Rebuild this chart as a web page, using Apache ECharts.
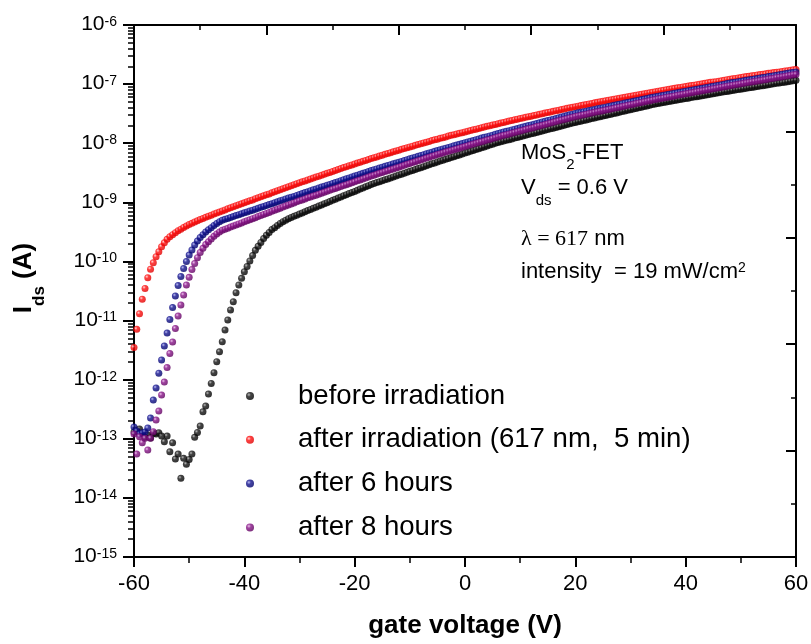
<!DOCTYPE html>
<html><head><meta charset="utf-8">
<script src="https://cdn.jsdelivr.net/npm/echarts@6/dist/echarts.min.js"></script>
<style>html,body{margin:0;padding:0;background:#fff}#c{width:811px;height:644px}</style>
</head><body><div id="c"></div>
<script>
const gateVoltage = [
-60,-59.5,-59,-58.5,-58,-57.5,-57,-56.5,-56,-55.5,
-55,-54.5,-54,-53.5,-53,-52.5,-52,-51.5,-51,-50.5,
-50,-49.5,-49,-48.5,-48,-47.5,-47,-46.5,-46,-45.5,
-45,-44.5,-44,-43.5,-43,-42.5,-42,-41.5,-41,-40.5,
-40,-39.5,-39,-38.5,-38,-37.5,-37,-36.5,-36,-35.5,
-35,-34.5,-34,-33.5,-33,-32.5,-32,-31.5,-31,-30.5,
-30,-29.5,-29,-28.5,-28,-27.5,-27,-26.5,-26,-25.5,
-25,-24.5,-24,-23.5,-23,-22.5,-22,-21.5,-21,-20.5,
-20,-19.5,-19,-18.5,-18,-17.5,-17,-16.5,-16,-15.5,
-15,-14.5,-14,-13.5,-13,-12.5,-12,-11.5,-11,-10.5,
-10,-9.5,-9,-8.5,-8,-7.5,-7,-6.5,-6,-5.5,
-5,-4.5,-4,-3.5,-3,-2.5,-2,-1.5,-1,-0.5,
0,0.5,1,1.5,2,2.5,3,3.5,4,4.5,
5,5.5,6,6.5,7,7.5,8,8.5,9,9.5,
10,10.5,11,11.5,12,12.5,13,13.5,14,14.5,
15,15.5,16,16.5,17,17.5,18,18.5,19,19.5,
20,20.5,21,21.5,22,22.5,23,23.5,24,24.5,
25,25.5,26,26.5,27,27.5,28,28.5,29,29.5,
30,30.5,31,31.5,32,32.5,33,33.5,34,34.5,
35,35.5,36,36.5,37,37.5,38,38.5,39,39.5,
40,40.5,41,41.5,42,42.5,43,43.5,44,44.5,
45,45.5,46,46.5,47,47.5,48,48.5,49,49.5,
50,50.5,51,51.5,52,52.5,53,53.5,54,54.5,
55,55.5,56,56.5,57,57.5,58,58.5,59,59.5,
60];

const beforeIrradiation = [
1.3e-13,1.4e-13,1.46e-13,1.25e-13,1.07e-13,1.16e-13,1.03e-13,1.23e-13,1.2e-13,1.26e-13,
1.11e-13,8.89e-14,1.11e-13,6.03e-14,8.55e-14,4.54e-14,5.51e-14,2.14e-14,4.67e-14,3.69e-14,
4.48e-14,5.51e-14,1.06e-13,1.28e-13,1.64e-13,2.86e-13,3.57e-13,5.7e-13,8.65e-13,1.31e-12,
2.01e-12,2.96e-12,4.38e-12,6.9e-12,1.02e-11,1.51e-11,2.08e-11,2.95e-11,3.99e-11,5.18e-11,
6.7e-11,8.2e-11,1.02e-10,1.26e-10,1.54e-10,1.81e-10,2.1e-10,2.44e-10,2.77e-10,3.1e-10,
3.47e-10,3.72e-10,4.06e-10,4.4e-10,4.7e-10,5.0e-10,5.28e-10,5.53e-10,5.79e-10,6.07e-10,
6.34e-10,6.62e-10,6.92e-10,7.24e-10,7.57e-10,7.91e-10,8.26e-10,8.63e-10,9.04e-10,9.44e-10,
9.86e-10,1.03e-9,1.08e-9,1.13e-9,1.18e-9,1.23e-9,1.29e-9,1.35e-9,1.41e-9,1.47e-9,
1.53e-9,1.6e-9,1.68e-9,1.75e-9,1.83e-9,1.91e-9,2.0e-9,2.08e-9,2.16e-9,2.23e-9,
2.32e-9,2.4e-9,2.49e-9,2.59e-9,2.69e-9,2.79e-9,2.89e-9,2.99e-9,3.1e-9,3.22e-9,
3.34e-9,3.47e-9,3.6e-9,3.73e-9,3.86e-9,4.01e-9,4.16e-9,4.32e-9,4.48e-9,4.65e-9,
4.82e-9,4.99e-9,5.16e-9,5.35e-9,5.53e-9,5.73e-9,5.93e-9,6.14e-9,6.35e-9,6.58e-9,
6.81e-9,7.05e-9,7.29e-9,7.55e-9,7.82e-9,8.09e-9,8.37e-9,8.67e-9,8.97e-9,9.29e-9,
9.62e-9,9.95e-9,1.03e-8,1.06e-8,1.09e-8,1.12e-8,1.15e-8,1.18e-8,1.22e-8,1.25e-8,
1.29e-8,1.32e-8,1.36e-8,1.4e-8,1.44e-8,1.48e-8,1.52e-8,1.56e-8,1.61e-8,1.66e-8,
1.7e-8,1.75e-8,1.8e-8,1.85e-8,1.9e-8,1.95e-8,2.01e-8,2.07e-8,2.13e-8,2.19e-8,
2.25e-8,2.31e-8,2.36e-8,2.42e-8,2.48e-8,2.55e-8,2.61e-8,2.67e-8,2.74e-8,2.81e-8,
2.88e-8,2.95e-8,3.03e-8,3.1e-8,3.18e-8,3.26e-8,3.34e-8,3.43e-8,3.51e-8,3.6e-8,
3.69e-8,3.78e-8,3.87e-8,3.97e-8,4.07e-8,4.18e-8,4.28e-8,4.39e-8,4.5e-8,4.61e-8,
4.72e-8,4.81e-8,4.9e-8,4.99e-8,5.09e-8,5.19e-8,5.28e-8,5.38e-8,5.48e-8,5.58e-8,
5.69e-8,5.79e-8,5.92e-8,6.03e-8,6.14e-8,6.25e-8,6.37e-8,6.49e-8,6.61e-8,6.73e-8,
6.87e-8,7.0e-8,7.13e-8,7.26e-8,7.4e-8,7.53e-8,7.67e-8,7.8e-8,7.94e-8,8.07e-8,
8.22e-8,8.36e-8,8.49e-8,8.65e-8,8.79e-8,8.95e-8,9.1e-8,9.25e-8,9.42e-8,9.57e-8,
9.75e-8,9.91e-8,1.01e-7,1.03e-7,1.04e-7,1.06e-7,1.08e-7,1.1e-7,1.12e-7,1.14e-7,
1.16e-7];

const afterIrradiation = [
3.5e-12,7.1e-12,1.3e-11,2.3e-11,3.5e-11,5.3e-11,7.4e-11,9.5e-11,1.2e-10,1.46e-10,
1.77e-10,2.07e-10,2.37e-10,2.61e-10,2.84e-10,3.07e-10,3.3e-10,3.52e-10,3.75e-10,3.97e-10,
4.2e-10,4.41e-10,4.64e-10,4.86e-10,5.1e-10,5.34e-10,5.57e-10,5.82e-10,6.07e-10,6.34e-10,
6.59e-10,6.85e-10,7.15e-10,7.44e-10,7.76e-10,8.07e-10,8.39e-10,8.73e-10,9.07e-10,9.44e-10,
9.8e-10,1.02e-9,1.06e-9,1.1e-9,1.15e-9,1.19e-9,1.24e-9,1.29e-9,1.34e-9,1.39e-9,
1.45e-9,1.51e-9,1.57e-9,1.63e-9,1.69e-9,1.76e-9,1.83e-9,1.9e-9,1.98e-9,2.06e-9,
2.14e-9,2.22e-9,2.3e-9,2.39e-9,2.48e-9,2.57e-9,2.67e-9,2.77e-9,2.87e-9,2.98e-9,
3.1e-9,3.21e-9,3.33e-9,3.46e-9,3.59e-9,3.72e-9,3.87e-9,4.0e-9,4.15e-9,4.3e-9,
4.45e-9,4.61e-9,4.77e-9,4.94e-9,5.12e-9,5.3e-9,5.49e-9,5.67e-9,5.86e-9,6.06e-9,
6.27e-9,6.48e-9,6.69e-9,6.92e-9,7.15e-9,7.39e-9,7.64e-9,7.88e-9,8.13e-9,8.39e-9,
8.66e-9,8.93e-9,9.21e-9,9.5e-9,9.8e-9,1.01e-8,1.04e-8,1.07e-8,1.11e-8,1.14e-8,
1.17e-8,1.21e-8,1.24e-8,1.28e-8,1.32e-8,1.36e-8,1.39e-8,1.43e-8,1.47e-8,1.51e-8,
1.55e-8,1.6e-8,1.64e-8,1.69e-8,1.73e-8,1.78e-8,1.83e-8,1.88e-8,1.93e-8,1.98e-8,
2.03e-8,2.08e-8,2.14e-8,2.19e-8,2.25e-8,2.31e-8,2.37e-8,2.43e-8,2.49e-8,2.55e-8,
2.62e-8,2.68e-8,2.74e-8,2.81e-8,2.87e-8,2.94e-8,3.01e-8,3.08e-8,3.16e-8,3.23e-8,
3.31e-8,3.39e-8,3.46e-8,3.55e-8,3.63e-8,3.72e-8,3.8e-8,3.89e-8,3.97e-8,4.06e-8,
4.15e-8,4.24e-8,4.33e-8,4.42e-8,4.52e-8,4.62e-8,4.71e-8,4.82e-8,4.92e-8,5.03e-8,
5.14e-8,5.24e-8,5.34e-8,5.45e-8,5.55e-8,5.66e-8,5.77e-8,5.89e-8,6.0e-8,6.12e-8,
6.24e-8,6.36e-8,6.49e-8,6.62e-8,6.75e-8,6.88e-8,7.02e-8,7.15e-8,7.29e-8,7.44e-8,
7.59e-8,7.73e-8,7.88e-8,8.04e-8,8.2e-8,8.34e-8,8.49e-8,8.64e-8,8.79e-8,8.95e-8,
9.11e-8,9.27e-8,9.43e-8,9.6e-8,9.77e-8,9.94e-8,1.01e-7,1.03e-7,1.05e-7,1.07e-7,
1.09e-7,1.1e-7,1.12e-7,1.14e-7,1.16e-7,1.19e-7,1.21e-7,1.23e-7,1.25e-7,1.27e-7,
1.29e-7,1.32e-7,1.34e-7,1.36e-7,1.38e-7,1.4e-7,1.43e-7,1.45e-7,1.47e-7,1.49e-7,
1.52e-7,1.54e-7,1.57e-7,1.59e-7,1.61e-7,1.64e-7,1.67e-7,1.69e-7,1.72e-7,1.75e-7,
1.77e-7];

const after6Hours = [
1.58e-13,1.35e-13,1.2e-13,1.25e-13,1.3e-13,1.52e-13,2.24e-13,4.52e-13,7.21e-13,1.29e-12,
2.15e-12,3.71e-12,6.14e-12,1.04e-11,1.66e-11,2.6e-11,3.91e-11,5.55e-11,7.59e-11,9.96e-11,
1.28e-10,1.56e-10,1.89e-10,2.21e-10,2.54e-10,2.83e-10,3.14e-10,3.44e-10,3.73e-10,4.04e-10,
4.37e-10,4.68e-10,4.98e-10,5.16e-10,5.35e-10,5.55e-10,5.74e-10,5.96e-10,6.17e-10,6.4e-10,
6.64e-10,6.87e-10,7.13e-10,7.38e-10,7.66e-10,7.93e-10,8.22e-10,8.53e-10,8.83e-10,9.16e-10,
9.48e-10,9.84e-10,1.02e-9,1.06e-9,1.1e-9,1.14e-9,1.18e-9,1.22e-9,1.26e-9,1.31e-9,
1.36e-9,1.41e-9,1.46e-9,1.51e-9,1.57e-9,1.63e-9,1.68e-9,1.75e-9,1.81e-9,1.87e-9,
1.95e-9,2.01e-9,2.09e-9,2.16e-9,2.24e-9,2.32e-9,2.41e-9,2.5e-9,2.59e-9,2.69e-9,
2.78e-9,2.88e-9,2.99e-9,3.1e-9,3.21e-9,3.33e-9,3.45e-9,3.56e-9,3.68e-9,3.8e-9,
3.93e-9,4.06e-9,4.2e-9,4.34e-9,4.48e-9,4.62e-9,4.78e-9,4.93e-9,5.09e-9,5.27e-9,
5.44e-9,5.62e-9,5.81e-9,6.0e-9,6.19e-9,6.4e-9,6.62e-9,6.84e-9,7.06e-9,7.29e-9,
7.54e-9,7.76e-9,8.0e-9,8.24e-9,8.49e-9,8.75e-9,9.02e-9,9.29e-9,9.57e-9,9.86e-9,
1.02e-8,1.05e-8,1.08e-8,1.11e-8,1.15e-8,1.18e-8,1.22e-8,1.26e-8,1.29e-8,1.33e-8,
1.37e-8,1.42e-8,1.46e-8,1.5e-8,1.55e-8,1.59e-8,1.63e-8,1.68e-8,1.73e-8,1.77e-8,
1.83e-8,1.88e-8,1.93e-8,1.99e-8,2.04e-8,2.1e-8,2.16e-8,2.22e-8,2.29e-8,2.35e-8,
2.42e-8,2.48e-8,2.55e-8,2.62e-8,2.7e-8,2.77e-8,2.86e-8,2.94e-8,3.02e-8,3.1e-8,
3.19e-8,3.27e-8,3.33e-8,3.41e-8,3.49e-8,3.57e-8,3.65e-8,3.73e-8,3.82e-8,3.91e-8,
3.99e-8,4.08e-8,4.18e-8,4.27e-8,4.37e-8,4.47e-8,4.57e-8,4.67e-8,4.78e-8,4.89e-8,
5.0e-8,5.11e-8,5.22e-8,5.35e-8,5.47e-8,5.58e-8,5.71e-8,5.85e-8,5.98e-8,6.11e-8,
6.25e-8,6.37e-8,6.5e-8,6.62e-8,6.76e-8,6.89e-8,7.03e-8,7.16e-8,7.31e-8,7.45e-8,
7.6e-8,7.74e-8,7.89e-8,8.05e-8,8.2e-8,8.37e-8,8.53e-8,8.71e-8,8.87e-8,9.06e-8,
9.23e-8,9.42e-8,9.59e-8,9.79e-8,9.98e-8,1.02e-7,1.04e-7,1.06e-7,1.08e-7,1.1e-7,
1.12e-7,1.14e-7,1.16e-7,1.18e-7,1.2e-7,1.22e-7,1.24e-7,1.27e-7,1.29e-7,1.31e-7,
1.34e-7,1.36e-7,1.39e-7,1.41e-7,1.44e-7,1.47e-7,1.49e-7,1.52e-7,1.55e-7,1.57e-7,
1.6e-7];

const after8Hours = [
1.2e-13,5.51e-14,1.08e-13,8.55e-14,1.02e-13,6.44e-14,1.02e-13,1.31e-13,2.07e-13,2.94e-13,
5.48e-13,9.1e-13,1.6e-12,2.77e-12,4.33e-12,7.33e-12,1.19e-11,1.83e-11,2.7e-11,3.99e-11,
5.38e-11,7.29e-11,9.2e-11,1.16e-10,1.42e-10,1.67e-10,1.93e-10,2.15e-10,2.39e-10,2.66e-10,
2.91e-10,3.14e-10,3.37e-10,3.52e-10,3.66e-10,3.81e-10,3.97e-10,4.14e-10,4.32e-10,4.49e-10,
4.68e-10,4.88e-10,5.08e-10,5.3e-10,5.51e-10,5.74e-10,5.98e-10,6.24e-10,6.5e-10,6.76e-10,
7.05e-10,7.35e-10,7.66e-10,7.96e-10,8.3e-10,8.65e-10,9.02e-10,9.38e-10,9.77e-10,1.02e-9,
1.06e-9,1.1e-9,1.14e-9,1.19e-9,1.23e-9,1.28e-9,1.32e-9,1.37e-9,1.43e-9,1.48e-9,
1.54e-9,1.6e-9,1.66e-9,1.72e-9,1.78e-9,1.85e-9,1.92e-9,1.99e-9,2.07e-9,2.14e-9,
2.22e-9,2.31e-9,2.39e-9,2.49e-9,2.58e-9,2.68e-9,2.78e-9,2.88e-9,2.98e-9,3.09e-9,
3.2e-9,3.31e-9,3.43e-9,3.55e-9,3.68e-9,3.81e-9,3.94e-9,4.08e-9,4.23e-9,4.39e-9,
4.54e-9,4.7e-9,4.86e-9,5.04e-9,5.22e-9,5.41e-9,5.6e-9,5.79e-9,6.0e-9,6.22e-9,
6.44e-9,6.65e-9,6.85e-9,7.08e-9,7.29e-9,7.53e-9,7.76e-9,8.02e-9,8.26e-9,8.53e-9,
8.79e-9,9.08e-9,9.38e-9,9.66e-9,9.98e-9,1.03e-8,1.06e-8,1.09e-8,1.13e-8,1.16e-8,
1.2e-8,1.24e-8,1.28e-8,1.32e-8,1.36e-8,1.39e-8,1.43e-8,1.48e-8,1.52e-8,1.56e-8,
1.61e-8,1.65e-8,1.7e-8,1.75e-8,1.8e-8,1.85e-8,1.91e-8,1.96e-8,2.01e-8,2.07e-8,
2.13e-8,2.19e-8,2.26e-8,2.32e-8,2.39e-8,2.46e-8,2.53e-8,2.6e-8,2.68e-8,2.75e-8,
2.83e-8,2.9e-8,2.96e-8,3.03e-8,3.1e-8,3.18e-8,3.25e-8,3.33e-8,3.4e-8,3.48e-8,
3.56e-8,3.64e-8,3.72e-8,3.81e-8,3.9e-8,3.99e-8,4.08e-8,4.18e-8,4.28e-8,4.37e-8,
4.47e-8,4.57e-8,4.68e-8,4.79e-8,4.9e-8,5.01e-8,5.13e-8,5.25e-8,5.37e-8,5.48e-8,
5.61e-8,5.73e-8,5.83e-8,5.96e-8,6.08e-8,6.19e-8,6.32e-8,6.46e-8,6.58e-8,6.71e-8,
6.84e-8,6.98e-8,7.13e-8,7.26e-8,7.41e-8,7.57e-8,7.71e-8,7.87e-8,8.02e-8,8.18e-8,
8.36e-8,8.51e-8,8.69e-8,8.87e-8,9.04e-8,9.23e-8,9.4e-8,9.57e-8,9.75e-8,9.93e-8,
1.01e-7,1.03e-7,1.05e-7,1.07e-7,1.09e-7,1.11e-7,1.13e-7,1.15e-7,1.17e-7,1.19e-7,
1.22e-7,1.24e-7,1.26e-7,1.29e-7,1.31e-7,1.33e-7,1.36e-7,1.38e-7,1.41e-7,1.44e-7,
1.46e-7];

const seriesNames = ['before irradiation', 'after irradiation (617 nm,  5 min)', 'after 6 hours', 'after 8 hours'];
const xTickValues = [-60, -40, -20, 0, 20, 40, 60];
const decadeExponents = [-15, -14, -13, -12, -11, -10, -9, -8, -7, -6];

const FONT = "'Liberation Sans', Arial, Helvetica, sans-serif";
const SERIF = "'Liberation Serif', 'Times New Roman', serif";

const minorTickPositions = [];
decadeExponents.slice(0, -1).forEach(function (e) {
  for (let m = 2; m <= 9; m++) minorTickPositions.push(e + Math.log10(m));
});

function ball(c0, c1, c2) {
  return { type: 'radial', x: 0.36, y: 0.34, r: 0.66,
    colorStops: [{ offset: 0, color: c0 }, { offset: 0.38, color: c1 }, { offset: 1, color: c2 }] };
}
function pairs(ys) { return gateVoltage.map(function (v, i) { return [v, ys[i]]; }); }

const seriesValues = [beforeIrradiation, afterIrradiation, after6Hours, after8Hours];
const seriesColors = [
  ball('#a8a8a8', '#141414', '#000000'),
  ball('#ffd0d0', '#ff1010', '#e00000'),
  ball('#aaaaee', '#141490', '#00006a'),
  ball('#e6b4e6', '#8a168a', '#600060')
];

const chart = echarts.init(document.getElementById('c'), null, { renderer: 'canvas' });
chart.setOption({
  animation: false,
  backgroundColor: '#fff',
  grid: { left: 134, right: 15, top: 25, bottom: 87, outerBoundsMode: 'none' },
  xAxis: [
    {
      type: 'value', min: -60, max: 60, interval: 20, position: 'bottom',
      axisLine: { onZero: false, lineStyle: { color: '#000', width: 2 } },
      axisTick: { inside: false, length: 10, customValues: xTickValues, lineStyle: { color: '#000', width: 2 } },
      minorTick: { show: true, splitNumber: 2, length: 6, lineStyle: { color: '#000', width: 1.5 } },
      splitLine: { show: false },
      axisLabel: { customValues: xTickValues, fontSize: 22, fontFamily: FONT, color: '#000', margin: 16 },
      name: 'gate voltage (V)', nameLocation: 'middle', nameGap: 56,
      nameTextStyle: { fontSize: 26, fontWeight: 'bold', fontFamily: FONT, color: '#000', lineHeight: 26 }
    },
    {
      type: 'value', min: 0, max: 10, interval: 2, position: 'top',
      axisLine: { onZero: false, lineStyle: { color: '#000', width: 2 } },
      axisTick: { inside: true, length: 10, lineStyle: { color: '#000', width: 2 } },
      minorTick: { show: true, splitNumber: 2, length: 5, lineStyle: { color: '#000', width: 1.5 } },
      axisLabel: { show: false }, splitLine: { show: false }
    }
  ],
  yAxis: [
    {
      type: 'log', logBase: 10, min: 1e-15, max: 1e-6, position: 'left',
      axisLine: { onZero: false, lineStyle: { color: '#000', width: 2 } },
      axisTick: { show: false }, axisLabel: { show: false }, splitLine: { show: false }, minorTick: { show: false }
    },
    {
      type: 'value', min: 0, max: 10, interval: 2, position: 'right',
      axisLine: { onZero: false, lineStyle: { color: '#000', width: 2 } },
      axisTick: { inside: true, length: 10, lineStyle: { color: '#000', width: 2 } },
      minorTick: { show: true, splitNumber: 2, length: 5, lineStyle: { color: '#000', width: 1.5 } },
      axisLabel: { show: false }, splitLine: { show: false }
    },
    {
      type: 'value', min: -15, max: -6, interval: 1, position: 'left',
      axisLine: { show: false, onZero: false },
      axisTick: { show: true, inside: false, length: 11, customValues: decadeExponents, lineStyle: { color: '#000', width: 2 } },
      splitLine: { show: false },
      axisLabel: {
        customValues: decadeExponents, margin: 17, color: '#000',
        formatter: function (v) { return '{b|10}{s|' + Math.round(v) + '}'; },
        rich: {
          b: { fontSize: 21, fontFamily: FONT, color: '#000', lineHeight: 20, verticalAlign: 'bottom' },
          s: { fontSize: 14, fontFamily: FONT, color: '#000', lineHeight: 14, verticalAlign: 'top', padding: [0, 0, 14, 0] }
        }
      }
    },
    {
      type: 'value', min: -15, max: -6, position: 'left',
      axisLine: { show: false, onZero: false },
      axisTick: { show: true, inside: false, length: 6, customValues: minorTickPositions, lineStyle: { color: '#000', width: 1.5 } },
      axisLabel: { show: false }, splitLine: { show: false }
    }
  ],
  legend: {
    orient: 'vertical', left: 241, top: 377, itemWidth: 86, itemHeight: 8, itemGap: 15.8,
    icon: 'circle', selectedMode: false,
    textStyle: { fontSize: 27.6, lineHeight: 27, fontFamily: FONT, color: '#000' },
    data: seriesNames
  },
  graphic: [
    { type: 'text', x: 521, y: 153, style: { text: 'MoS{sub|2}-FET', fontSize: 22, fontFamily: FONT, fill: '#000', lineHeight: 22, align: 'left', verticalAlign: 'middle',
      rich: { sub: { fontSize: 15, fontFamily: FONT, fill: '#000', lineHeight: 15, padding: [24, 0, 0, 0] } } } },
    { type: 'text', x: 521, y: 188, style: { text: 'V{sub|ds} = 0.6 V', fontSize: 22, fontFamily: FONT, fill: '#000', lineHeight: 22, align: 'left', verticalAlign: 'middle',
      rich: { sub: { fontSize: 15, fontFamily: FONT, fill: '#000', lineHeight: 15, padding: [26, 0, 0, 0] } } } },
    { type: 'text', x: 521, y: 239.4, style: { text: '{s|λ = 617} nm', fontSize: 22, fontFamily: FONT, fill: '#000', lineHeight: 22, align: 'left', verticalAlign: 'middle',
      rich: { s: { fontSize: 22, fontFamily: SERIF, fill: '#000', lineHeight: 22 } } } },
    { type: 'text', x: 521, y: 272.4, style: { text: 'intensity  = 19 mW/cm{sup|2}', fontSize: 22, fontFamily: FONT, fill: '#000', lineHeight: 22, align: 'left', verticalAlign: 'middle',
      rich: { sup: { fontSize: 14, fontFamily: FONT, fill: '#000', lineHeight: 14, verticalAlign: 'top', padding: [0, 0, 14, 0] } } } },
    { type: 'text', x: 24, y: 278, rotation: Math.PI / 2, style: { text: 'I{d|ds} (A)', fontSize: 26, fontWeight: 'bold', fontFamily: FONT, fill: '#000', lineHeight: 26, align: 'center', verticalAlign: 'middle',
      rich: { d: { fontSize: 17, fontWeight: 'bold', fontFamily: FONT, fill: '#000', lineHeight: 17, padding: [31, 0, 0, 0] } } } }
  ],
  series: seriesNames.map(function (name, i) {
    return {
      name: name, type: 'scatter', xAxisIndex: 0, yAxisIndex: 0,
      symbol: 'circle', symbolSize: 7,
      itemStyle: { color: seriesColors[i] },
      emphasis: { disabled: true },
      data: pairs(seriesValues[i])
    };
  })
});
</script>
</body></html>
